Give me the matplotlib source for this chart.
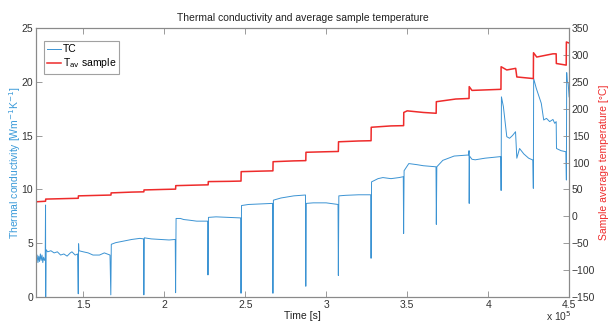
import numpy as np
import matplotlib
matplotlib.use("Agg")
import matplotlib.pyplot as plt
from matplotlib.ticker import FuncFormatter, MultipleLocator

plt.rcParams['font.family'] = ['Liberation Sans', 'DejaVu Sans']
plt.rcParams['font.size'] = 7.5

# time in units of 1e5 s, thermal conductivity in W/mK
tc_t = [1.210, 1.215, 1.220, 1.225, 1.230, 1.235, 1.240, 1.245, 1.250, 1.255, 1.260, 1.265,
        1.267, 1.268, 1.270,
        1.28, 1.30, 1.32, 1.34, 1.36, 1.38, 1.40, 1.42, 1.43, 1.45, 1.465,
        1.469, 1.471, 1.473,
        1.50, 1.53, 1.56, 1.60, 1.63, 1.665,
        1.670, 1.673,
        1.70, 1.75, 1.80, 1.85, 1.872,
        1.874, 1.877,
        1.92, 1.98, 2.03, 2.068,
        2.070, 2.073,
        2.10, 2.12, 2.15, 2.20, 2.268,
        2.270, 2.273,
        2.32, 2.40, 2.472,
        2.474, 2.477,
        2.52, 2.60, 2.669,
        2.671, 2.674,
        2.72, 2.80, 2.872,
        2.874, 2.877,
        2.92, 3.00, 3.073,
        3.075, 3.078,
        3.12, 3.20, 3.275,
        3.277, 3.280,
        3.32, 3.35, 3.40, 3.45, 3.476,
        3.478, 3.481,
        3.51, 3.56, 3.60, 3.678,
        3.680, 3.683,
        3.72, 3.79, 3.880,
        3.882, 3.883, 3.885, 3.90, 3.92, 3.98, 4.078,
        4.080, 4.082, 4.094, 4.115, 4.132, 4.15, 4.169, 4.177, 4.194, 4.22, 4.25, 4.276,
        4.279, 4.281, 4.297, 4.328, 4.343, 4.36, 4.38, 4.40, 4.411, 4.42, 4.422, 4.45, 4.48,
        4.483, 4.485, 4.488, 4.494, 4.50]
tc_v = [3.5, 3.9, 3.2, 3.8, 3.3, 4.0, 3.4, 3.9, 3.2, 3.7, 3.4, 3.6,
        8.55, 0.0, 4.4,
        4.2, 4.3, 4.1, 4.2, 3.9, 4.0, 3.8, 4.1, 4.2, 3.9, 4.0,
        0.3, 4.95, 4.3,
        4.2, 4.1, 3.9, 3.9, 4.1, 3.9,
        0.2, 4.9,
        5.05, 5.2, 5.35, 5.45, 5.4,
        0.2, 5.5,
        5.4, 5.35, 5.3, 5.35,
        0.4, 7.3,
        7.3, 7.2, 7.15, 7.05, 7.05,
        2.05, 7.4,
        7.45, 7.4, 7.35,
        0.35, 8.5,
        8.6, 8.65, 8.7,
        0.35, 9.0,
        9.2, 9.4, 9.48,
        1.0, 8.7,
        8.75, 8.75, 8.6,
        2.0, 9.4,
        9.45, 9.5, 9.5,
        3.6, 10.7,
        11.0, 11.1, 11.0, 11.1, 11.18,
        5.9, 11.74,
        12.4, 12.3, 12.2, 12.1,
        6.75, 12.1,
        12.7, 13.1, 13.2,
        13.6, 8.7, 13.1, 12.8, 12.75, 12.9, 13.05,
        9.9, 18.6, 17.7, 14.9, 14.75, 15.0, 15.36, 12.9, 13.8, 13.3, 12.9, 12.73,
        10.1, 20.3, 19.4, 18.0, 16.45, 16.6, 16.3, 16.5, 16.14, 16.3, 13.8, 13.6, 13.5,
        10.87, 20.85, 20.0, 19.86, 18.6]

# average sample temperature in degC
tav_t = [1.21, 1.267, 1.268, 1.40, 1.469, 1.470, 1.60, 1.671, 1.672, 1.80, 1.874, 1.875,
         2.00, 2.070, 2.071, 2.20, 2.271, 2.272, 2.40, 2.474, 2.475, 2.60, 2.671, 2.672,
         2.80, 2.874, 2.875, 3.00, 3.075, 3.076, 3.20, 3.277, 3.278, 3.40, 3.478,
         3.479, 3.50, 3.60, 3.679, 3.680, 3.80, 3.882, 3.883, 3.90, 4.079,
         4.080, 4.115, 4.170, 4.177, 4.279, 4.280, 4.30, 4.40, 4.420, 4.421, 4.482, 4.483, 4.50]
tav_v = [27, 28, 32, 33, 33.5, 38, 39, 39.5, 43.5, 45, 45.5, 49,
         50, 50.5, 57, 58, 58.5, 64.5, 65, 65.5, 83, 84, 84.5, 101.5,
         103, 103.5, 119, 120, 120.5, 138.5, 140, 140.5, 165.5, 168, 168.5,
         193, 196, 193, 191.5, 213, 218, 219, 241, 234, 236,
         278, 272, 275, 259, 256, 304, 296, 302, 302, 284, 281, 324, 322]

blue = '#3b93d3'
red = '#ee2b2b'
grey = '#8a8a8a'

fig = plt.figure(figsize=(6.1, 3.24), dpi=100)
ax1 = fig.add_axes([0.059, 0.0833, 0.874, 0.8303])
ax2 = ax1.twinx()

l1, = ax1.plot(np.array(tc_t) * 1e5, tc_v, color=blue, lw=0.7, label='TC')
l2, = ax2.plot(np.array(tav_t) * 1e5, tav_v, color=red, lw=1.1, label='T$_{\\rm av}$ sample')

ax1.set_xlim(1.208e5, 4.5e5)
ax1.set_ylim(0, 25)
ax2.set_ylim(-150, 350)
ax1.xaxis.set_major_locator(MultipleLocator(0.5e5))
ax1.xaxis.set_major_formatter(FuncFormatter(lambda x, p: '%g' % (x / 1e5)))
ax1.yaxis.set_major_locator(MultipleLocator(5))
ax2.yaxis.set_major_locator(MultipleLocator(50))

for ax in (ax1, ax2):
    for s in ax.spines.values():
        s.set_color(grey)
        s.set_linewidth(0.8)
    ax.tick_params(direction='in', length=4, width=0.6, color=grey,
                   labelcolor='#333333', labelsize=7.5, pad=2)
ax1.tick_params(axis='x', top=True)

ax1.set_title('Thermal conductivity and average sample temperature', fontsize=7.5,
              color='#222222', pad=5)
ax1.set_xlabel('Time [s]', fontsize=7.5, color='#222222', labelpad=1)
ax1.set_ylabel('Thermal conductivity [Wm$^{-1}$K$^{-1}$]', fontsize=7.5, color='#3a9ad9', labelpad=-1)
ax2.set_ylabel('Sample average temperature [°C]', fontsize=7.5, color=red, labelpad=3)
ax1.text(1.005, -0.088, 'x 10$^5$', transform=ax1.transAxes, ha='right', va='baseline',
         fontsize=7.5, color='#333333')

leg = ax2.legend(handles=[l1, l2], loc='upper left', fontsize=7.5, frameon=True,
                 fancybox=False, edgecolor=grey, handlelength=1.3, handletextpad=0.2,
                 borderpad=0.3, labelspacing=0.2, bbox_to_anchor=(0.005, 0.97))
leg.get_frame().set_linewidth(0.8)

fig.savefig('out.png', dpi=100)
